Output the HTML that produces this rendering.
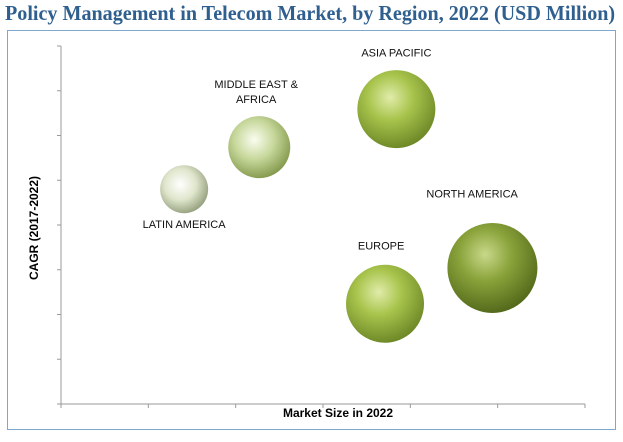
<!DOCTYPE html>
<html><head><meta charset="utf-8"><style>
body{margin:0;background:#fff;width:623px;height:442px;overflow:hidden;font-family:"Liberation Sans",sans-serif}
#title{position:absolute;left:5px;top:1px;font:bold 21px "Liberation Serif",serif;color:#2f5f8f;white-space:nowrap;transform:scaleX(0.957);transform-origin:0 0}
#frame{position:absolute;left:7px;top:30px;width:609px;height:400px;border:1px solid #7fa7c9;box-sizing:border-box}
svg{position:absolute;left:0;top:0}
</style></head><body>
<div id="title">Policy Management in Telecom Market, by Region, 2022 (USD Million)</div>
<div id="frame"></div>
<svg id="chart" width="623" height="442">
<defs>
<radialGradient id="gDark" cx="0.42" cy="0.35" r="0.65"><stop offset="0" stop-color="#c8d88a"/><stop offset="0.45" stop-color="#8aa33a"/><stop offset="1" stop-color="#556b1c"/></radialGradient>
<radialGradient id="gMid" cx="0.42" cy="0.35" r="0.65"><stop offset="0" stop-color="#e0ecaa"/><stop offset="0.45" stop-color="#a8c44c"/><stop offset="1" stop-color="#6f8a28"/></radialGradient>
<radialGradient id="gLight" cx="0.42" cy="0.38" r="0.65"><stop offset="0" stop-color="#fafdf0"/><stop offset="0.5" stop-color="#c6d79a"/><stop offset="1" stop-color="#82974a"/></radialGradient>
<radialGradient id="gPale" cx="0.42" cy="0.4" r="0.65"><stop offset="0" stop-color="#ffffff"/><stop offset="0.5" stop-color="#dfe6cc"/><stop offset="1" stop-color="#8f9a78"/></radialGradient>
</defs>
</svg>
<script>
const regions=["LATIN AMERICA","MIDDLE EAST &\nAFRICA","ASIA PACIFIC","EUROPE","NORTH AMERICA"];
const marketSize=[1.41,2.27,3.84,3.71,4.94];
const cagr=[4.8,5.74,6.59,2.24,3.04];
const bubbleSize=[24,31,39,39,45];
const xTicks=[0,1,2,3,4,5,6];
const yTicks=[0,1,2,3,4,5,6,7,8];
const fills=["gPale","gLight","gMid","gMid","gDark"];
const labelPos=[[0,1.45],[-0.1,-1.55],[0,-1.45],[-0.1,-1.5],[-0.45,-1.65]];
const svg=document.getElementById('chart');
const NS='http://www.w3.org/2000/svg';
const X=v=>61+v*(585-61)/6, Y=v=>404-v*(404-46)/8;
function mk(t,a){const e=document.createElementNS(NS,t);for(const k in a)e.setAttribute(k,a[k]);svg.appendChild(e);return e;}
let e=mk('line',{x1:61,y1:46,x2:61,y2:404,stroke:'#9a9a9a'});

e=mk('line',{x1:61,y1:404,x2:585,y2:404,stroke:'#9a9a9a'});

xTicks.forEach(t=>{const l=mk('line',{x1:X(t),x2:X(t),y1:404,y2:408,stroke:'#9a9a9a'});
});
yTicks.forEach(t=>{const l=mk('line',{x1:57,x2:61,y1:Y(t),y2:Y(t),stroke:'#9a9a9a'});
});
e=mk('text',{x:338,y:417,'text-anchor':'middle','font-size':'12','font-weight':'bold',fill:'#000'});e.textContent='Market Size in 2022';

e=mk('text',{x:0,y:0,'text-anchor':'middle','font-size':'12','font-weight':'bold',fill:'#000',transform:'translate(38,228) rotate(-90)'});e.textContent='CAGR (2017-2022)';

regions.forEach((r,i)=>{const cx=X(marketSize[i]),cy=Y(cagr[i]),rad=bubbleSize[i];
const c=mk('circle',{cx:cx,cy:cy,r:rad,fill:'url(#'+fills[i]+')'});


const lines=r.split('\n');const lx=cx+labelPos[i][0]*rad;let ly=cy+labelPos[i][1]*rad;
if(labelPos[i][1]<0) ly-= (lines.length-1)*15;
lines.forEach((ln,j)=>{const t=mk('text',{x:lx,y:ly+j*15+4,'text-anchor':'middle','font-size':'11',fill:'#111'});t.textContent=ln;
});
});
</script>
</body></html>
